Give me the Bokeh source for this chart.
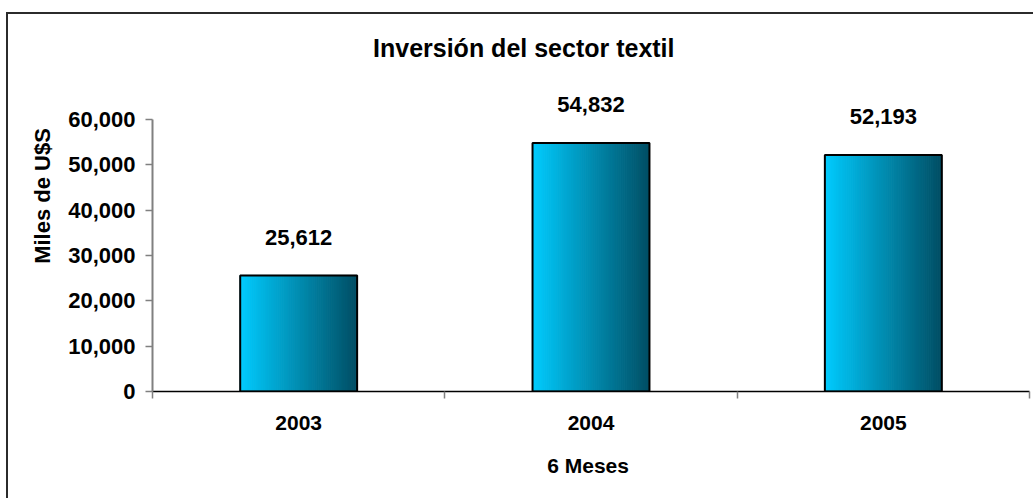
from bokeh.plotting import figure
from bokeh.models import (ColumnDataSource, FixedTicker, LabelSet, Label,
                          Range1d, NumeralTickFormatter)
from bokeh.core.properties import value
from bokeh.embed import file_html
from bokeh.resources import INLINE

# ---- data ----
years = ["2003", "2004", "2005"]
values = [25612, 54832, 52193]
value_labels = ["25,612", "54,832", "52,193"]
y_ticks = [0, 10000, 20000, 30000, 40000, 50000, 60000]
title_text = "Inversión del sector textil"
x_label = "6  Meses"
y_label = "Miles de U$S"

FONT = "Liberation Sans"
W, H = 1033, 498
FRAME_BOTTOM = 391          # px from top of canvas
AXIS_TOP = 119              # px where the last y tick sits
y_end = y_ticks[-1] * FRAME_BOTTOM / (FRAME_BOTTOM - AXIS_TOP)

p = figure(width=W, height=H, output_backend="svg", toolbar_location=None,
           title=None,
           x_range=Range1d(0, len(years)), y_range=Range1d(0, y_end),
           min_border_left=152, min_border_right=W - 1029, min_border_top=0,
           min_border_bottom=H - FRAME_BOTTOM)
p.outline_line_color = None
p.xgrid.visible = False
p.ygrid.visible = False
p.background_fill_alpha = 0
p.border_fill_alpha = 0
# outer chart border (top + left edges of the original chart box)
p.styles = {
    "background": "linear-gradient(#2b2b2b,#2b2b2b) 6px 12px / 2px 100% no-repeat, "
                  "linear-gradient(#2b2b2b,#2b2b2b) 6px 12px / 100% 2px no-repeat, white"
}

centers = [i + 0.5 for i in range(len(years))]
bar_w = 0.4

# gradient strips (styling of each bar)
N = 60
c0 = (0, 204, 255)
c1 = (0, 78, 100)
L, R, T, C = [], [], [], []
for cx, v in zip(centers, values):
    x0 = cx - bar_w / 2
    for k in range(N):
        t = (k + 0.5) / N
        col = tuple(int(round(a + (b - a) * t)) for a, b in zip(c0, c1))
        L.append(x0 + bar_w * k / N)
        R.append(x0 + bar_w * (k + 1) / N)
        T.append(v)
        C.append("#%02x%02x%02x" % col)
p.quad(left=L, right=R, top=T, bottom=0, fill_color=C, line_color=C, line_width=1)
p.vbar(x=centers, width=bar_w, top=values, bottom=0, fill_color=None,
       line_color="black", line_width=2)

# value labels
src = ColumnDataSource(dict(x=centers, y=values, t=value_labels))
p.add_layout(LabelSet(x="x", y="y", text="t", source=src, y_offset=38,
                      text_align="center", text_baseline="middle",
                      text_font=value(FONT), text_font_style="bold",
                      text_font_size="22px", text_color="black"))

# title
p.add_layout(Label(x=1.27, y=y_ticks[-1], y_offset=72, text=title_text,
                   text_align="center", text_baseline="middle",
                   text_font=FONT, text_font_style="bold",
                   text_font_size="25px", text_color="black"))

# x axis
xa = p.xaxis[0]
xa.ticker = FixedTicker(ticks=centers, minor_ticks=list(range(len(years) + 1)))
xa.major_label_overrides = {c: y for c, y in zip(centers, years)}
xa.major_tick_line_color = None
xa.major_tick_out = 0
xa.major_tick_in = 0
xa.minor_tick_out = 7
xa.minor_tick_in = 0
xa.minor_tick_line_color = "#808080"
xa.minor_tick_line_width = 1.5
xa.axis_line_color = "black"
xa.axis_line_width = 1.5
xa.major_label_standoff = 17
xa.major_label_text_font = FONT
xa.major_label_text_font_style = "bold"
xa.major_label_text_font_size = "21px"
xa.major_label_text_color = "black"
xa.axis_label = x_label
xa.axis_label_standoff = 21
xa.axis_label_text_font = FONT
xa.axis_label_text_font_style = "bold"
xa.axis_label_text_font_size = "21px"
xa.axis_label_text_color = "black"

# y axis
ya = p.yaxis[0]
ya.ticker = FixedTicker(ticks=y_ticks)
ya.bounds = (y_ticks[0], y_ticks[-1])
ya.formatter = NumeralTickFormatter(format="0,0")
ya.major_tick_out = 7
ya.major_tick_in = 0
ya.minor_tick_line_color = None
ya.major_tick_line_color = "#808080"
ya.major_tick_line_width = 1.5
ya.axis_line_color = "#808080"
ya.axis_line_width = 2
ya.major_label_standoff = 10
ya.major_label_text_font = FONT
ya.major_label_text_font_style = "bold"
ya.major_label_text_font_size = "22px"
ya.major_label_text_color = "black"
ya.axis_label = y_label
ya.axis_label_standoff = 10
ya.axis_label_text_font = FONT
ya.axis_label_text_font_style = "bold"
ya.axis_label_text_font_size = "22px"
ya.axis_label_text_color = "black"

open("out.html", "w").write(file_html(p, INLINE))
